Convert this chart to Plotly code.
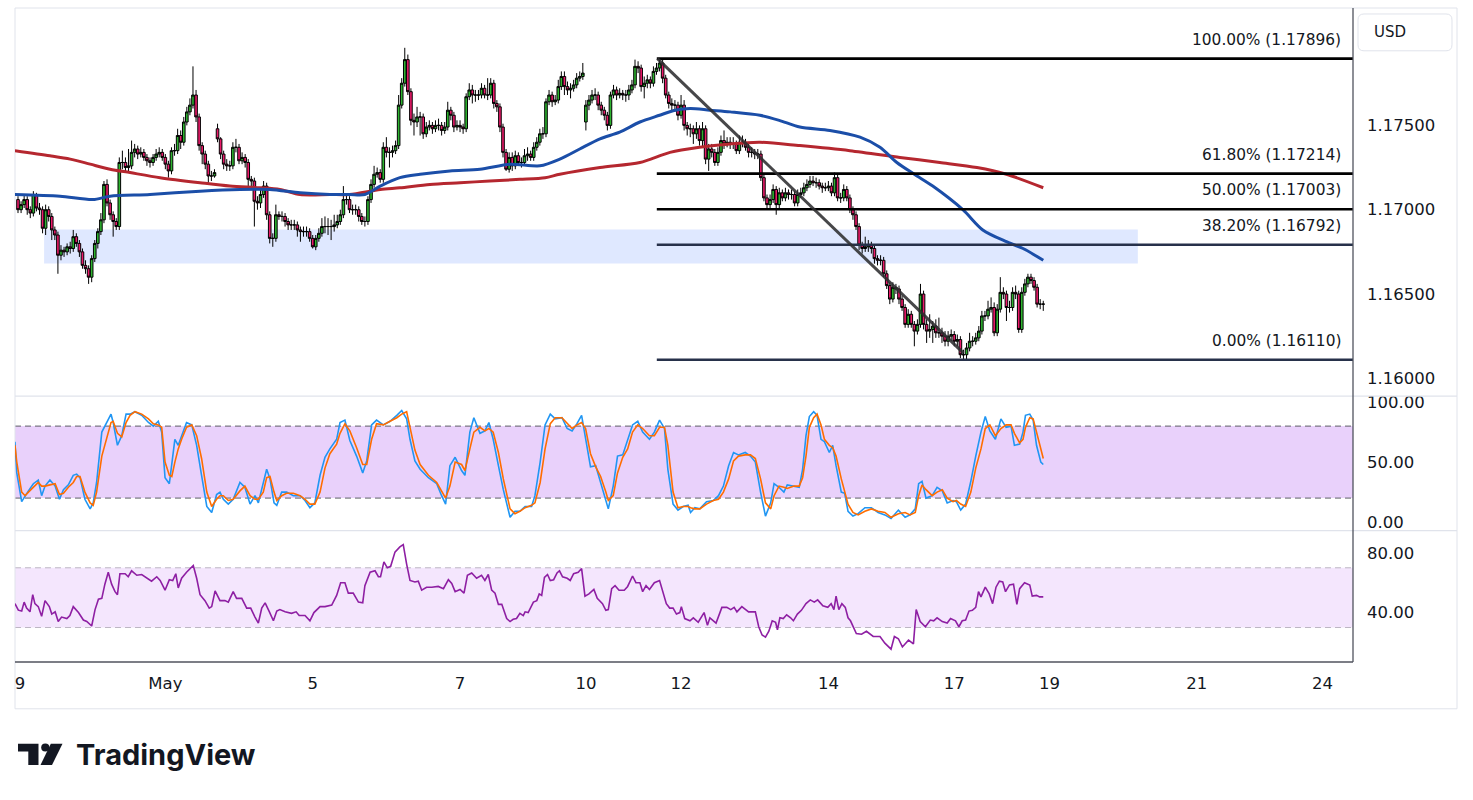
import plotly.graph_objects as go

# ---------------- data (x = hourly bar index, 0 = Apr 29 00:00, weekends removed) ----------------
close = [
1.1700, 1.1703, 1.1706, 1.1700, 1.1698, 1.1709, 1.1701, 1.1700, 1.1689, 1.1700,
1.1696, 1.1688, 1.1685, 1.1673, 1.1676, 1.1675, 1.1678, 1.1677, 1.1684, 1.1680,
1.1675, 1.1667, 1.1665, 1.1660, 1.1671, 1.1680, 1.1687, 1.1694, 1.1715, 1.1704,
1.1697, 1.1693, 1.1690, 1.1728, 1.1728, 1.1725, 1.1726, 1.1734, 1.1736, 1.1733,
1.1734, 1.1731, 1.1729, 1.1728, 1.1731, 1.1733, 1.1734, 1.1731, 1.1727, 1.1723,
1.1735, 1.1735, 1.1744, 1.1740, 1.1752, 1.1758, 1.1762, 1.1768, 1.1755, 1.1738,
1.1733, 1.1727, 1.1720, 1.1720, 1.1722, 1.1742, 1.1733, 1.1727, 1.1726, 1.1726,
1.1737, 1.1737, 1.1729, 1.1731, 1.1728, 1.1718, 1.1717, 1.1705, 1.1704, 1.1709,
1.1714, 1.1697, 1.1683, 1.1683, 1.1697, 1.1696, 1.1696, 1.1693, 1.1691, 1.1691,
1.1691, 1.1688, 1.1687, 1.1687, 1.1687, 1.1683, 1.1678, 1.1683, 1.1686, 1.1690,
1.1690, 1.1690, 1.1690, 1.1691, 1.1693, 1.1697, 1.1706, 1.1706, 1.1700, 1.1700,
1.1700, 1.1696, 1.1693, 1.1693, 1.1706, 1.1715, 1.1721, 1.1722, 1.1718, 1.1737,
1.1734, 1.1734, 1.1735, 1.1738, 1.1762, 1.1775, 1.1789, 1.1770, 1.1753, 1.1752,
1.1755, 1.1755, 1.1745, 1.1749, 1.1750, 1.1748, 1.1750, 1.1750, 1.1747, 1.1749,
1.1759, 1.1756, 1.1749, 1.1750, 1.1749, 1.1748, 1.1767, 1.1771, 1.1768, 1.1768,
1.1768, 1.1772, 1.1768, 1.1768, 1.1775, 1.1763, 1.1761, 1.1749, 1.1734, 1.1724,
1.1731, 1.1726, 1.1732, 1.1728, 1.1728, 1.1732, 1.1733, 1.1731, 1.1737, 1.1740,
1.1745, 1.1745, 1.1764, 1.1768, 1.1764, 1.1765, 1.1773, 1.1779, 1.1773, 1.1771,
1.1772, 1.1774, 1.1778, 1.1779, 1.1781, 1.1762, 1.1765, 1.1768, 1.1768, 1.1762,
1.1759, 1.1756, 1.1750, 1.1768, 1.1771, 1.1768, 1.1769, 1.1768, 1.1768, 1.1771,
1.1774, 1.1785, 1.1784, 1.1773, 1.1775, 1.1777, 1.1775, 1.1782, 1.1784, 1.1787,
1.1778, 1.1768, 1.1763, 1.1762, 1.1762, 1.1756, 1.1762, 1.1750, 1.1748, 1.1748,
1.1745, 1.1748, 1.1741, 1.1748, 1.1730, 1.1736, 1.1734, 1.1728, 1.1734, 1.1741,
1.1739, 1.1740, 1.1739, 1.1739, 1.1735, 1.1740, 1.1740, 1.1737, 1.1734, 1.1734,
1.1733, 1.1733, 1.1719, 1.1707, 1.1703, 1.1706, 1.1712, 1.1703, 1.1710, 1.1707,
1.1710, 1.1709, 1.1709, 1.1704, 1.1709, 1.1710, 1.1713, 1.1715, 1.1717, 1.1716,
1.1716, 1.1714, 1.1713, 1.1713, 1.1714, 1.1710, 1.1719, 1.1707, 1.1707, 1.1712,
1.1707, 1.1700, 1.1697, 1.1690, 1.1679, 1.1677, 1.1678, 1.1679, 1.1677, 1.1671,
1.1670, 1.1670, 1.1662, 1.1655, 1.1647, 1.1654, 1.1653, 1.1647, 1.1642, 1.1632,
1.1638, 1.1632, 1.1628, 1.1632, 1.1650, 1.1632, 1.1628, 1.1629, 1.1631, 1.1627,
1.1627, 1.1625, 1.1622, 1.1625, 1.1626, 1.1622, 1.1623, 1.1614, 1.1614, 1.1618,
1.1622, 1.1622, 1.1624, 1.1628, 1.1637, 1.1637, 1.1641, 1.1642, 1.1627, 1.1641,
1.1651, 1.1650, 1.1642, 1.1642, 1.1651, 1.1650, 1.1629, 1.1651, 1.1656, 1.1660,
1.1658, 1.1654, 1.1644, 1.1644, 1.1644,
]
high = [
1.1708, 1.1705, 1.1709, 1.1708, 1.1702, 1.1711, 1.1710, 1.1704, 1.1702, 1.1703,
1.1702, 1.1698, 1.1690, 1.1687, 1.1679, 1.1678, 1.1680, 1.1681, 1.1688, 1.1686,
1.1682, 1.1677, 1.1670, 1.1667, 1.1673, 1.1682, 1.1689, 1.1698, 1.1717, 1.1718,
1.1706, 1.1699, 1.1695, 1.1731, 1.1735, 1.1731, 1.1736, 1.1741, 1.1739, 1.1738,
1.1737, 1.1736, 1.1733, 1.1731, 1.1733, 1.1736, 1.1737, 1.1736, 1.1733, 1.1729,
1.1737, 1.1739, 1.1748, 1.1747, 1.1755, 1.1761, 1.1766, 1.1785, 1.1771, 1.1757,
1.1740, 1.1735, 1.1729, 1.1723, 1.1724, 1.1751, 1.1743, 1.1735, 1.1730, 1.1729,
1.1740, 1.1742, 1.1739, 1.1734, 1.1733, 1.1730, 1.1720, 1.1719, 1.1708, 1.1713,
1.1717, 1.1716, 1.1699, 1.1686, 1.1703, 1.1699, 1.1699, 1.1698, 1.1695, 1.1694,
1.1694, 1.1693, 1.1690, 1.1690, 1.1690, 1.1689, 1.1685, 1.1685, 1.1689, 1.1695,
1.1696, 1.1695, 1.1694, 1.1697, 1.1697, 1.1700, 1.1714, 1.1709, 1.1708, 1.1703,
1.1703, 1.1702, 1.1698, 1.1696, 1.1708, 1.1718, 1.1726, 1.1725, 1.1724, 1.1740,
1.1743, 1.1737, 1.1738, 1.1741, 1.1768, 1.1778, 1.1796, 1.1792, 1.1772, 1.1757,
1.1761, 1.1758, 1.1757, 1.1752, 1.1753, 1.1752, 1.1753, 1.1754, 1.1752, 1.1752,
1.1764, 1.1761, 1.1758, 1.1753, 1.1753, 1.1751, 1.1769, 1.1775, 1.1774, 1.1771,
1.1771, 1.1775, 1.1774, 1.1778, 1.1778, 1.1777, 1.1765, 1.1763, 1.1751, 1.1736,
1.1734, 1.1734, 1.1735, 1.1734, 1.1731, 1.1736, 1.1737, 1.1735, 1.1740, 1.1743,
1.1748, 1.1749, 1.1766, 1.1771, 1.1770, 1.1768, 1.1777, 1.1782, 1.1782, 1.1776,
1.1775, 1.1777, 1.1781, 1.1782, 1.1787, 1.1765, 1.1768, 1.1771, 1.1772, 1.1770,
1.1764, 1.1761, 1.1758, 1.1770, 1.1774, 1.1773, 1.1772, 1.1771, 1.1771, 1.1774,
1.1777, 1.1789, 1.1788, 1.1786, 1.1779, 1.1780, 1.1779, 1.1785, 1.1787, 1.1790,
1.1789, 1.1780, 1.1770, 1.1766, 1.1765, 1.1764, 1.1768, 1.1765, 1.1752, 1.1751,
1.1750, 1.1752, 1.1750, 1.1752, 1.1750, 1.1739, 1.1739, 1.1736, 1.1737, 1.1744,
1.1747, 1.1743, 1.1743, 1.1743, 1.1741, 1.1744, 1.1744, 1.1742, 1.1739, 1.1737,
1.1736, 1.1736, 1.1735, 1.1721, 1.1709, 1.1709, 1.1715, 1.1714, 1.1713, 1.1712,
1.1713, 1.1712, 1.1712, 1.1711, 1.1712, 1.1713, 1.1716, 1.1718, 1.1720, 1.1720,
1.1719, 1.1718, 1.1716, 1.1716, 1.1717, 1.1716, 1.1722, 1.1721, 1.1710, 1.1715,
1.1714, 1.1709, 1.1702, 1.1699, 1.1692, 1.1681, 1.1684, 1.1682, 1.1681, 1.1679,
1.1673, 1.1673, 1.1672, 1.1664, 1.1657, 1.1657, 1.1656, 1.1655, 1.1649, 1.1644,
1.1641, 1.1640, 1.1634, 1.1635, 1.1656, 1.1652, 1.1635, 1.1638, 1.1634, 1.1635,
1.1636, 1.1630, 1.1628, 1.1628, 1.1629, 1.1628, 1.1626, 1.1625, 1.1617, 1.1621,
1.1627, 1.1625, 1.1627, 1.1631, 1.1640, 1.1640, 1.1646, 1.1648, 1.1645, 1.1644,
1.1660, 1.1654, 1.1652, 1.1646, 1.1654, 1.1655, 1.1652, 1.1654, 1.1659, 1.1662,
1.1662, 1.1660, 1.1656, 1.1647, 1.1646,
]
low = [
1.1698, 1.1698, 1.1701, 1.1697, 1.1695, 1.1696, 1.1699, 1.1697, 1.1686, 1.1685,
1.1693, 1.1682, 1.1682, 1.1662, 1.1670, 1.1672, 1.1673, 1.1674, 1.1675, 1.1678,
1.1672, 1.1665, 1.1662, 1.1656, 1.1657, 1.1669, 1.1677, 1.1685, 1.1692, 1.1702,
1.1694, 1.1684, 1.1688, 1.1688, 1.1724, 1.1722, 1.1722, 1.1724, 1.1731, 1.1730,
1.1731, 1.1729, 1.1726, 1.1725, 1.1726, 1.1729, 1.1731, 1.1729, 1.1724, 1.1719,
1.1721, 1.1732, 1.1733, 1.1736, 1.1738, 1.1750, 1.1756, 1.1760, 1.1752, 1.1735,
1.1727, 1.1724, 1.1716, 1.1717, 1.1719, 1.1740, 1.1730, 1.1724, 1.1723, 1.1723,
1.1724, 1.1734, 1.1727, 1.1727, 1.1725, 1.1712, 1.1714, 1.1690, 1.1700, 1.1701,
1.1707, 1.1694, 1.1680, 1.1678, 1.1681, 1.1694, 1.1693, 1.1690, 1.1688, 1.1688,
1.1688, 1.1684, 1.1681, 1.1684, 1.1684, 1.1681, 1.1677, 1.1676, 1.1681, 1.1684,
1.1686, 1.1685, 1.1682, 1.1687, 1.1689, 1.1691, 1.1695, 1.1703, 1.1698, 1.1697,
1.1697, 1.1693, 1.1691, 1.1690, 1.1691, 1.1704, 1.1713, 1.1719, 1.1716, 1.1716,
1.1731, 1.1725, 1.1731, 1.1733, 1.1736, 1.1760, 1.1773, 1.1768, 1.1750, 1.1744,
1.1749, 1.1744, 1.1742, 1.1743, 1.1747, 1.1745, 1.1746, 1.1747, 1.1744, 1.1745,
1.1747, 1.1753, 1.1746, 1.1747, 1.1746, 1.1745, 1.1746, 1.1765, 1.1763, 1.1764,
1.1765, 1.1766, 1.1766, 1.1765, 1.1766, 1.1760, 1.1758, 1.1746, 1.1731, 1.1723,
1.1722, 1.1723, 1.1724, 1.1726, 1.1725, 1.1726, 1.1729, 1.1729, 1.1729, 1.1735,
1.1738, 1.1742, 1.1743, 1.1762, 1.1761, 1.1762, 1.1763, 1.1771, 1.1768, 1.1768,
1.1766, 1.1770, 1.1772, 1.1776, 1.1777, 1.1747, 1.1759, 1.1763, 1.1765, 1.1759,
1.1756, 1.1753, 1.1747, 1.1748, 1.1766, 1.1765, 1.1766, 1.1765, 1.1764, 1.1765,
1.1769, 1.1772, 1.1781, 1.1770, 1.1766, 1.1772, 1.1772, 1.1773, 1.1780, 1.1782,
1.1775, 1.1766, 1.1760, 1.1759, 1.1758, 1.1753, 1.1754, 1.1747, 1.1744, 1.1743,
1.1739, 1.1742, 1.1738, 1.1737, 1.1727, 1.1723, 1.1731, 1.1726, 1.1726, 1.1732,
1.1736, 1.1737, 1.1736, 1.1736, 1.1733, 1.1733, 1.1737, 1.1735, 1.1731, 1.1731,
1.1730, 1.1730, 1.1717, 1.1705, 1.1700, 1.1701, 1.1704, 1.1697, 1.1700, 1.1705,
1.1705, 1.1706, 1.1706, 1.1702, 1.1702, 1.1707, 1.1708, 1.1711, 1.1713, 1.1714,
1.1713, 1.1712, 1.1710, 1.1711, 1.1711, 1.1708, 1.1708, 1.1705, 1.1704, 1.1705,
1.1705, 1.1698, 1.1694, 1.1688, 1.1676, 1.1674, 1.1675, 1.1675, 1.1674, 1.1668,
1.1667, 1.1667, 1.1660, 1.1653, 1.1644, 1.1645, 1.1650, 1.1644, 1.1640, 1.1630,
1.1630, 1.1630, 1.1619, 1.1626, 1.1630, 1.1629, 1.1621, 1.1624, 1.1621, 1.1624,
1.1624, 1.1621, 1.1619, 1.1619, 1.1622, 1.1619, 1.1619, 1.1612, 1.1611, 1.1611,
1.1616, 1.1619, 1.1620, 1.1622, 1.1626, 1.1634, 1.1635, 1.1639, 1.1625, 1.1625,
1.1639, 1.1647, 1.1634, 1.1639, 1.1640, 1.1647, 1.1627, 1.1627, 1.1649, 1.1654,
1.1656, 1.1652, 1.1642, 1.1641, 1.1640,
]
# opens equal the previous close, except where the session opened with a gap
gap_open = {0: 1.1706, 65: 1.1748, 185: 1.1752}

ma_blue_bar = [-1, 13.7, 24.4, 30, 43, 59.3, 72.3, 82, 91.9, 101.6, 108, 113, 118, 124.4, 131,
               140.7, 150.5, 160.3, 170, 176.5, 183, 189.6, 196, 202.6, 209, 214, 219, 225.4,
               232, 241.7, 248, 254.7, 264.5, 274.3, 280.8, 286.3, 292, 298, 307.8, 314.3,
               322, 327.4, 334]
ma_blue = [1.1709, 1.1708, 1.1706, 1.1708, 1.1709, 1.1711, 1.1712, 1.1712, 1.1710, 1.1709,
           1.1709, 1.1709, 1.1714, 1.1719, 1.1721, 1.1723, 1.1724, 1.1727, 1.1726, 1.1730,
           1.1736, 1.1742, 1.1746, 1.1752, 1.1756, 1.1759, 1.1760, 1.1759, 1.1758, 1.1756,
           1.1753, 1.1749, 1.1747, 1.1743, 1.1737, 1.1728, 1.1721, 1.1714, 1.1700, 1.1688,
           1.1681, 1.1677, 1.1670]
ma_red_bar = [-1, 10.4, 17, 23.5, 30, 36.5, 46.3, 59.3, 69, 78.8, 85.3, 91.9, 101.6, 108, 118,
              124.4, 134.2, 144, 153.7, 163.5, 171.7, 176.5, 189.6, 202.6, 212.4, 222, 232,
              241.7, 254.7, 271, 287.3, 300.3, 312.4, 322, 334]
ma_red = [1.1735, 1.1732, 1.1730, 1.1727, 1.1724, 1.1722, 1.1719, 1.1716, 1.1714, 1.1713,
          1.1712, 1.1709, 1.1709, 1.1709, 1.1712, 1.1713, 1.1715, 1.1716, 1.1717, 1.1718,
          1.1719, 1.1721, 1.1725, 1.1728, 1.1734, 1.1737, 1.1739, 1.1740, 1.1738, 1.1735,
          1.1731, 1.1728, 1.1725, 1.1721, 1.1713]

stoch_bar = [
-1, -0.4, 1.2, 2.3, 3.4, 5, 6.6, 7.7, 8.8, 10.4, 12.1, 13.5, 14.8, 16.4, 18, 19.1, 20.2, 21.8,
23.5, 24.5, 25.6, 27.3, 28.9, 30.3, 31, 32.4, 33.8, 35.2, 36.5, 38.1, 40.3, 42.5, 44.1, 45.7,
46.8, 47.9, 49.3, 50.1, 51.1, 52.2, 53.3, 54.9, 56.6, 58.2, 59.8, 61.5, 63.1, 64.7, 65.8, 66.9,
68.5, 70.1, 72.3, 73.9, 75.6, 77.2, 78.3, 79.9, 81, 82.1, 83.4, 84.3, 85.9, 87.5, 89.7, 91.9,
93.5, 95.1, 96.7, 98.4, 100, 101.6, 103.8, 104.9, 106.5, 108.1, 110.3, 112.3, 113.6, 115.2,
116.8, 119, 121.2, 123.4, 125, 126.6, 127.7, 129.3, 131, 133.7, 136.4, 138, 139.3, 140.7,
142.4, 144.5, 145.6, 147.2, 148.5, 150.5, 152.1, 153.4, 154.8, 156.5, 158.1, 160.3, 161.9, 163.5,
165.2, 167.3, 168.4, 170.1, 171.7, 173.4, 175, 177.2, 178.9, 180.5, 182.1, 183.6, 184.9, 186.5,
188.2, 189.8, 191.5, 192.3, 193.9, 195.3, 197, 198.6, 200.2, 201.9, 203.5, 205.7, 207.3, 209,
210.6, 211.7, 213.4, 215, 216.7, 218.3, 219.1, 220.5, 222.1, 224.3, 226.5, 228.2, 229.8, 231.5,
233.1, 234.7, 236.9, 238.6, 240.2, 241.9, 243.5, 245.2, 246.3, 247.9, 249.5, 250.6, 252.8,
254.5, 255.6, 256.7, 257.8, 259.2, 260.3, 261.6, 262.7, 264.3, 265.4, 266.5, 268.2, 269.3,
270.4, 272, 273.7, 275.9, 278, 280.2, 282.4, 284.4, 286.8, 289, 290.6, 292.3, 293.4, 294.5,
295.8, 297.8, 299.4, 301.1, 302.7, 304.6, 305.7, 307.1, 308.7, 310.4, 312, 313.7, 315.1,
316.6, 318.4, 320.2, 321.9, 323.5, 324.6, 326.3, 327.4, 328.2, 329.6, 330.7, 331.8, 333.2, 334]
stoch_k = [
67, 41, 17, 22, 26, 32, 35, 22, 30, 35, 30, 19, 27, 31, 39, 40, 37, 19, 11, 16,
33, 75, 83, 90, 83, 64, 72, 90, 90, 92, 89, 83, 80, 84, 75, 37, 32, 47, 69, 64,
72, 83, 81, 64, 39, 13, 8, 23, 25, 19, 15, 19, 33, 29, 15, 22, 16, 33, 44, 36,
16, 14, 25, 25, 22, 22, 18, 12, 16, 39, 54, 61, 69, 83, 85, 68, 55, 41, 51, 81,
85, 81, 84, 89, 93, 86, 69, 51, 44, 37, 32, 22, 15, 47, 54, 43, 39, 75, 87, 74,
76, 83, 69, 47, 27, 4, 9, 9,
13, 13, 22, 50, 81, 90, 86, 87, 78, 76, 82, 89, 69, 46, 47, 33, 20, 11, 30, 55,
56, 68, 81, 84, 75, 69, 75, 85, 78, 44, 15, 10, 13, 14, 8, 12, 11, 17, 18, 22,
30, 47, 58, 56, 58, 55, 50, 25, 5, 16, 32, 29, 25, 31, 30, 29, 44, 72, 88, 92,
89, 69, 67, 58, 64, 47, 25, 24, 9, 5, 7, 12, 12, 8, 6, 3, 10, 4, 6, 11,
32, 34, 20, 22, 29, 26, 16, 18, 17, 10, 15, 34, 55, 75, 88, 76, 69, 86, 79, 80,
64, 65, 75, 89, 90, 85, 64, 50, 48]
stoch_d = [
64, 50, 25, 22, 25, 29, 33, 30, 30, 31, 32, 23, 24, 29, 33, 38, 38, 25, 16, 14,
25, 55, 71, 83, 84, 74, 71, 83, 89, 92, 90, 86, 82, 81, 79, 50, 39, 38, 50, 61,
69, 79, 81, 72, 53, 25, 13, 19, 22, 22, 18, 19, 26, 30, 22, 19, 19, 25, 37, 38,
25, 18, 22, 24, 24, 22, 19, 15, 15, 25, 45, 57, 65, 74, 82, 76, 62, 48, 48, 69,
82, 81, 84, 87, 90, 92, 79, 60, 48, 39, 33, 26, 20, 30, 50, 48, 43, 61, 75, 79,
76, 78, 75, 58, 36, 11, 7, 9,
12, 14, 16, 33, 61, 82, 87, 87, 82, 78, 81, 83, 78, 57, 46, 38, 25, 18, 22, 41,
54, 61, 75, 81, 78, 72, 72, 79, 79, 64, 25, 12, 13, 13, 12, 11, 11, 15, 18, 19,
25, 36, 51, 55, 56, 56, 53, 36, 16, 11, 22, 30, 29, 28, 30, 30, 37, 55, 79, 87,
90, 81, 69, 64, 62, 55, 36, 25, 15, 8, 6, 9, 11, 9, 8, 4, 7, 8, 6, 8,
22, 31, 27, 22, 25, 27, 20, 17, 18, 15, 13, 25, 45, 61, 78, 81, 72, 78, 81, 81,
74, 66, 69, 79, 87, 86, 75, 60, 53]

rsi_bar = [
-1, 0.1, 1.2, 2, 2.8, 3.9, 4.8, 5.5, 6.6, 7.7, 8.8, 10.2, 11, 12.1, 13.1, 14.2, 15.9, 16.9, 18,
19.7, 21.3, 22.4, 24, 25.1, 26.2, 27.3, 28.3, 29.4, 30.5, 31.6, 32.4, 33.2, 34.9, 35.9, 37, 38.7,
40.3, 41.9, 43.5, 45.2, 46.3, 47.9, 49.3, 50.4, 51.4, 52.2, 53.3, 54.9, 57.1, 58.2, 59.3, 60.9,
62.3, 63.1, 64.2, 65.8, 67.4, 68.5, 70.1, 71.2, 72.9, 74.5, 75.8, 77.2, 78.3, 79.4, 80.5, 81.9,
83.2, 84.3, 85.3, 87, 89.1, 90.6, 91.6, 93.5, 95.1, 96.4, 98.4, 100, 102.2, 103.8, 105.1, 106.5,
107.6, 109.2, 110.9, 112.3, 113, 114.7, 116.3, 117.4, 118.1, 119.2, 120.3, 121.4, 122.8, 124.4,
125.5, 126.6, 127.7, 129.3, 130.4, 131.5, 133.1, 134.8, 136.9, 138.6, 140.2, 141.3, 142.4, 144,
145.3, 146.4, 147.8, 149.4, 151, 152.1, 153.2, 154.3, 155.4, 156.5, 157.6, 159.2, 160.3, 161.3,
162.4, 163.5, 164.6,
165.2, 166.2, 167.9, 169, 169.8, 170.6, 171.5, 172.5, 173.4, 174.5, 175.6, 176.4, 177.4, 178.9,
179.9, 181, 182.5, 183.6, 184.7, 186, 187.6, 188.7, 190.4, 191.5, 192.3, 193.4, 194.5, 195.8,
197.5, 198.6, 200.2, 201.3, 202.6, 203.5, 204.6, 205.7, 207.3, 209, 211.2, 212.3, 213.4, 214.5,
215.6, 216.1, 217.2, 218.9, 220, 221.6, 223.5, 224.6, 225.4, 227.4, 229.3, 230.9, 232.2, 233.3,
234.2, 235.8, 238, 240.2, 241.3, 242.4, 243.5, 244.6, 245.7, 246.8, 247.4, 248.2, 249.3, 250.4,
251.7, 252.6, 253.9, 255.2, 256.7, 258.1, 259.4, 260.5, 262.2, 263.8, 264.9, 265.8, 266.5,
267.4, 268.4, 269.5, 270.4, 271.2, 273.1, 274.8, 276.4, 278.6, 280.8, 282.4, 284.4, 285.5,
286.8, 288.1, 290.1, 291.7, 292.6, 293.9, 295.6, 297.2, 298.3, 299.4, 301.1, 302.7, 303.8,
305.4, 306.5, 307.6, 308.7, 309.8, 310.9, 312, 312.9, 313.7, 315.1, 316.4, 317.5, 318.6,
319.7, 320.8, 321.7, 323, 324.3, 325.4, 326.3, 327.9, 329.6, 330.4, 331.8, 332.8, 334]
rsi = [
46, 41.6, 41, 47, 43, 40.5, 52, 46, 44, 37.5, 48, 44, 39, 40.5, 34, 37, 36, 38, 44, 40,
35, 34, 31, 42, 49, 49.5, 59, 67, 59, 54, 52, 66, 66, 64, 68, 65, 65.5, 63, 61, 64,
61.5, 55, 62, 61.5, 66, 56.5, 63, 67, 71.5, 63, 52, 48, 43, 44, 54.5, 48, 48, 47, 54, 49.5,
49.5, 43, 43, 37, 33, 43, 46.5, 40.5, 34.5, 41, 42, 40.5, 39.5, 40.5, 38, 38, 34.5, 40, 44, 44,
45, 51.5, 60, 60, 53, 53, 47, 46.5, 58, 67, 68, 64, 64, 74, 70, 71, 80.5, 84, 85.5, 72.5,
61.5, 60.5, 61, 55, 57, 57, 57.5, 56, 62, 59.5, 54, 55.5, 53, 65, 66.5, 63, 65, 61.5, 65.5, 55,
53, 45.5, 45.5, 36, 34, 35.5, 36, 39.5, 38,
40.5, 40, 47, 48, 52.5, 51.5, 63.5, 65.5, 61.5, 62, 66.5, 68, 64, 63, 61.5, 66, 67, 69.5, 51, 52.5,
55.5, 49.5, 46, 41.5, 42, 56, 58, 55, 55, 57.5, 64.5, 60, 60, 54, 58, 55.5, 60, 61.5, 46, 43,
43, 39, 40, 44, 36, 34.5, 36.5, 33.5, 40, 31.5, 36.5, 33, 43.5, 43.5, 42, 43.5, 40.5, 44, 40.5, 40.5,
30.5, 25, 23.5, 27.5, 34.5, 33.5, 28.5, 36.5, 36, 38.5, 36.5, 34.5, 39, 41.5, 46, 48.5, 47, 48.5, 44.5, 43.5,
46, 42, 51, 42, 46, 43.5, 36.5, 34.5, 26, 25.5, 27.5, 24, 24, 19.5, 15.5, 24, 22.5, 17, 21.5, 19,
42, 34, 30.5, 35, 34.5, 36.5, 34, 33, 36, 34.5, 30.5, 34.5, 35, 41, 41.5, 43.5, 54, 50.5, 57, 52.5,
46, 57, 61, 60.5, 54, 58.5, 59, 45.5, 56, 60, 58.5, 51, 51.5, 50.5, 50.5]

tick_bars = [0.65, 48, 96, 144, 185, 216, 264, 305, 336, 384, 425]
tick_text = ["9", "May", "5", "7", "10", "12", "14", "17", "19", "21", "24"]
price_ticks = [1.160, 1.165, 1.170, 1.175]
stoch_ticks = [0, 50, 100]
rsi_ticks = [40, 80]

fib_ratios = [1.0, 0.618, 0.5, 0.382, 0.0]
fib_prices = [1.17896, 1.17214, 1.17003, 1.16792, 1.16110]
fib_start_bar = 208.1
trend_bars = [208.3, 308.0]
trend_prices = [1.17896, 1.16150]
zone_bars = [8.5, 364.8]
zone_prices = [1.16681, 1.16882]
stoch_band = [20, 80]
rsi_band = [30, 70]

# ---------------- geometry ----------------
W, H = 1473, 800
PL, PR, PT, PB = 15, 1353, 5, 662
X_RANGE = [-0.98, 434.9]


def fx(px):
    return (px - PL) / (PR - PL)


def fy(py):
    return (PB - py) / (PB - PT)


def poly(points):
    return "M " + " L ".join(f"{fx(x):.5f},{fy(y):.5f}" for x, y in points) + " Z"


def rrect(x0, y0, x1, y1, r):
    p = lambda x, y: f"{fx(x):.5f},{fy(y):.5f}"
    return (f"M {p(x0 + r, y0)} L {p(x1 - r, y0)} Q {p(x1, y0)} {p(x1, y0 + r)} "
            f"L {p(x1, y1 - r)} Q {p(x1, y1)} {p(x1 - r, y1)} L {p(x0 + r, y1)} "
            f"Q {p(x0, y1)} {p(x0, y1 - r)} L {p(x0, y0 + r)} Q {p(x0, y0)} {p(x0 + r, y0)} Z")


n = min(len(close), len(high), len(low))
bars = list(range(n))
opens = [gap_open.get(i, close[i - 1] if i > 0 else close[0]) for i in bars]

UP, DN = "#2db32f", "#ec1a6a"
TXT = "#131722"
FONT = "DejaVu Sans"

fig = go.Figure()
fig.add_trace(go.Candlestick(
    x=bars, open=opens, high=high[:n], low=low[:n], close=close[:n],
    increasing=dict(fillcolor=UP, line=dict(color="#000000", width=1)),
    decreasing=dict(fillcolor=DN, line=dict(color="#000000", width=1)),
    whiskerwidth=0, hoverinfo="skip", showlegend=False, xaxis="x", yaxis="y"))
fig.add_trace(go.Scatter(x=ma_red_bar, y=ma_red, mode="lines", hoverinfo="skip", showlegend=False,
                         line=dict(color="#b5272f", width=3, shape="spline", smoothing=0.8),
                         xaxis="x", yaxis="y"))
fig.add_trace(go.Scatter(x=ma_blue_bar, y=ma_blue, mode="lines", hoverinfo="skip", showlegend=False,
                         line=dict(color="#1b4ea8", width=3, shape="spline", smoothing=0.8),
                         xaxis="x", yaxis="y"))
fig.add_trace(go.Scatter(x=stoch_bar, y=stoch_k, mode="lines", hoverinfo="skip", showlegend=False,
                         line=dict(color="#2196f3", width=1.6), xaxis="x", yaxis="y2"))
fig.add_trace(go.Scatter(x=stoch_bar, y=stoch_d, mode="lines", hoverinfo="skip", showlegend=False,
                         line=dict(color="#ff6d00", width=1.6), xaxis="x", yaxis="y2"))
fig.add_trace(go.Scatter(x=rsi_bar, y=rsi, mode="lines", hoverinfo="skip", showlegend=False,
                         line=dict(color="#8e1fa3", width=1.6), xaxis="x", yaxis="y3"))

shapes = []
# highlighted zone
shapes.append(dict(type="rect", xref="x", yref="y", x0=zone_bars[0], x1=zone_bars[1],
                   y0=zone_prices[0], y1=zone_prices[1], fillcolor="rgba(41,98,255,0.15)",
                   line=dict(width=0), layer="below"))
# indicator bands
shapes.append(dict(type="rect", xref="paper", yref="y2", x0=0, x1=1, y0=stoch_band[0], y1=stoch_band[1],
                   fillcolor="#e9d1fb", line=dict(width=0), layer="below"))
for v in stoch_band:
    shapes.append(dict(type="line", xref="paper", yref="y2", x0=0, x1=1, y0=v, y1=v,
                       line=dict(color="#5d5f66", width=1, dash="6px,4px"), layer="below"))
shapes.append(dict(type="rect", xref="paper", yref="y3", x0=0, x1=1, y0=rsi_band[0], y1=rsi_band[1],
                   fillcolor="#f4e6fd", line=dict(width=0), layer="below"))
for v in rsi_band:
    shapes.append(dict(type="line", xref="paper", yref="y3", x0=0, x1=1, y0=v, y1=v,
                       line=dict(color="#bdb6c4", width=1, dash="6px,4px"), layer="below"))
# fib levels
fib_colors = ["#000000", "#000000", "#000000", "#27314a", "#27314a"]
for p, c in zip(fib_prices, fib_colors):
    shapes.append(dict(type="line", xref="x", yref="y", x0=fib_start_bar, x1=X_RANGE[1], y0=p, y1=p,
                       line=dict(color=c, width=2.6), layer="above"))
# trend line
shapes.append(dict(type="line", xref="x", yref="y", x0=trend_bars[0], x1=trend_bars[1],
                   y0=trend_prices[0], y1=trend_prices[1],
                   line=dict(color="rgba(45,45,48,0.88)", width=3), layer="above"))
# frame / separators
shapes.append(dict(type="rect", xref="paper", yref="paper", x0=fx(15), x1=fx(1457), y0=fy(709), y1=fy(5),
                   line=dict(color="#e0e3eb", width=1), fillcolor="rgba(0,0,0,0)", layer="below"))
for sy in (395, 530):
    shapes.append(dict(type="line", xref="paper", yref="paper", x0=fx(15), x1=fx(1457), y0=fy(sy), y1=fy(sy),
                       line=dict(color="#e0e3eb", width=1.2), layer="above"))
shapes.append(dict(type="line", xref="paper", yref="paper", x0=1, x1=1, y0=0, y1=fy(5),
                   line=dict(color="#50535e", width=1.3), layer="above"))
shapes.append(dict(type="line", xref="paper", yref="paper", x0=0, x1=1, y0=0, y1=0,
                   line=dict(color="#50535e", width=1.3), layer="above"))
# USD box
shapes.append(dict(type="path", xref="paper", yref="paper", path=rrect(1358, 11, 1452, 48, 6),
                   line=dict(color="#e0e3eb", width=1), fillcolor="#ffffff", layer="above"))
# TradingView logo mark
shapes.append(dict(type="path", xref="paper", yref="paper",
                   path=poly([(18, 744), (38.5, 744), (38.5, 765.5), (28.3, 765.5), (28.3, 752), (18, 752)]),
                   fillcolor="#131722", line=dict(width=0)))
shapes.append(dict(type="circle", xref="paper", yref="paper", x0=fx(41.2), x1=fx(49.4), y0=fy(752), y1=fy(743.8),
                   fillcolor="#131722", line=dict(width=0)))
shapes.append(dict(type="path", xref="paper", yref="paper",
                   path=poly([(50.8, 744), (62.5, 744), (52, 765.5), (40.5, 765.5)]),
                   fillcolor="#131722", line=dict(width=0)))

annotations = []
for r, p in zip(fib_ratios, fib_prices):
    annotations.append(dict(xref="paper", yref="y", x=fx(1343), y=p, xanchor="right", yanchor="bottom",
                            yshift=8, showarrow=False, text=f"{r * 100:.2f}% ({p:.5f})",
                            font=dict(family=FONT, size=15.4, color=TXT)))
annotations.append(dict(xref="paper", yref="paper", x=fx(1372), y=fy(29.5), xanchor="left", yanchor="middle",
                        showarrow=False, text="USD", font=dict(family=FONT, size=15, color=TXT)))
annotations.append(dict(xref="paper", yref="paper", x=fx(74), y=fy(755), xanchor="left", yanchor="middle",
                        showarrow=False, text="<b>TradingView</b>",
                        font=dict(family="Inter", size=29, color=TXT)))

axfont = dict(family=FONT, size=16.5, color=TXT)
fig.update_layout(
    width=W, height=H, margin=dict(l=PL, r=W - PR, t=PT, b=H - PB, pad=0),
    paper_bgcolor="#ffffff", plot_bgcolor="#ffffff", showlegend=False,
    font=dict(family=FONT, color=TXT), boxgap=0.08, boxgroupgap=0.08,
    xaxis=dict(domain=[0, 1], range=X_RANGE, anchor="y3", tickvals=tick_bars, ticktext=tick_text,
               showgrid=False, zeroline=False, showline=False, ticks="", tickfont=axfont,
               ticklabelstandoff=9, rangeslider=dict(visible=False), fixedrange=True),
    yaxis=dict(domain=[fy(395), 1], range=[1.15894, 1.18196], side="right", anchor="x",
               tickvals=price_ticks, ticktext=[f"{v:.5f}" for v in price_ticks],
               showgrid=False, zeroline=False, showline=False, ticks="", tickfont=axfont,
               ticklabelstandoff=13, fixedrange=True),
    yaxis2=dict(domain=[fy(530), fy(395)], range=[-7.1, 104.9], side="right", anchor="x",
                tickvals=stoch_ticks, ticktext=[f"{v:.2f}" for v in stoch_ticks],
                showgrid=False, zeroline=False, showline=False, ticks="", tickfont=axfont,
                ticklabelstandoff=13, fixedrange=True),
    yaxis3=dict(domain=[0, fy(530)], range=[6.9, 94.9], side="right", anchor="x",
                tickvals=rsi_ticks, ticktext=[f"{v:.2f}" for v in rsi_ticks],
                showgrid=False, zeroline=False, showline=False, ticks="", tickfont=axfont,
                ticklabelstandoff=13, fixedrange=True),
    shapes=shapes, annotations=annotations,
)

fig.write_html("out.html", config={"displayModeBar": False, "staticPlot": True},
               post_script="document.body.style.margin='0';document.body.style.padding='0';")
